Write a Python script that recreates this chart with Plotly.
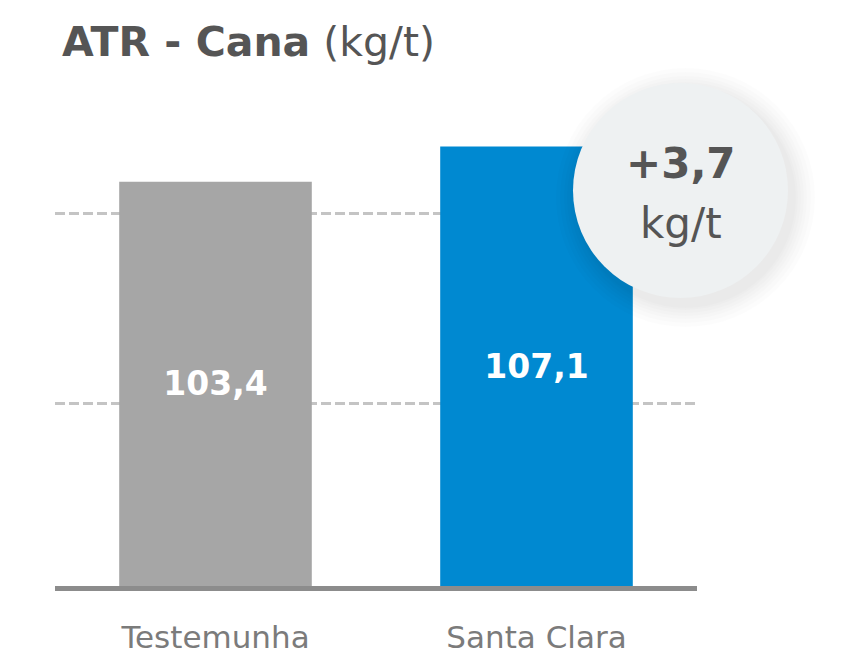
import plotly.graph_objects as go

categories = ["Testemunha", "Santa Clara"]
values = [103.4, 107.1]
bar_colors = ["#a6a6a6", "#0089d1"]
grid_values = [80, 100]
y_range = [60.8, 112.0]
unit = "kg/t"

W, H = 857, 664
OFF = 8  # page body margin offset
ML, MR, MT = 55 - OFF, 160 + OFF, 100 - OFF
MB = H - (586 - OFF)
PW, PH = W - ML - MR, H - MT - MB

def px_x(p):
    return (p - OFF - ML) / PW

def px_y(p):
    return (H - MB - (p - OFF)) / PH

def fmt(v, sign=False):
    s = f"{v:+.1f}" if sign else f"{v:.1f}"
    return s.replace(".", ",")

FONT = "DejaVu Sans"
base = y_range[0]

fig = go.Figure(go.Bar(
    x=categories, y=[v - base for v in values], base=base,
    marker=dict(color=bar_colors, line=dict(width=0)),
    text=[fmt(v) for v in values],
    textposition="inside", insidetextanchor="middle",
    textfont=dict(family=FONT, size=33, color="white", weight="bold"),
    width=0.6, hoverinfo="skip", cliponaxis=False,
))

# badge circle with soft shadow
cx0, cx1, cy0, cy1 = 573, 788, 83, 298
shapes = []
for grow in [22, 18, 14, 11, 8, 5, 3]:
    shapes.append(dict(type="circle", xref="paper", yref="paper",
                       x0=px_x(cx0 - grow + 5), x1=px_x(cx1 + grow + 5),
                       y0=px_y(cy1 + grow + 7), y1=px_y(cy0 - grow + 7),
                       fillcolor="rgba(0,0,0,0.012)", line=dict(width=0), layer="above"))
shapes.append(dict(type="circle", xref="paper", yref="paper",
                   x0=px_x(cx0), x1=px_x(cx1), y0=px_y(cy1), y1=px_y(cy0),
                   fillcolor="#eef1f2", line=dict(width=0), layer="above"))

diff = values[1] - values[0]
annotations = [
    dict(text="<b>ATR - Cana</b> (kg/t)", xref="paper", yref="paper",
         x=px_x(60), y=px_y(42), xanchor="left", yanchor="middle", showarrow=False,
         font=dict(family=FONT, size=41, color="#555555")),
    dict(text=fmt(diff, sign=True), xref="paper", yref="paper",
         x=px_x(681), y=px_y(164), xanchor="center", yanchor="middle", showarrow=False,
         font=dict(family=FONT, size=42, color="#555555", weight="bold")),
    dict(text=unit, xref="paper", yref="paper",
         x=px_x(681), y=px_y(224), xanchor="center", yanchor="middle", showarrow=False,
         font=dict(family=FONT, size=42, color="#555555")),
]

fig.update_layout(
    width=W, height=H,
    margin=dict(l=ML, r=MR, t=MT, b=MB),
    paper_bgcolor="white", plot_bgcolor="white",
    showlegend=False, bargap=0.4,
    shapes=shapes, annotations=annotations,
    xaxis=dict(showline=True, linecolor="#8c8c8c", linewidth=5, showgrid=False,
               ticks="", ticklabelstandoff=20,
               tickfont=dict(family=FONT, size=31, color="#7b7b7b"), zeroline=False),
    yaxis=dict(range=y_range, tickvals=grid_values, showticklabels=False,
               showgrid=True, gridcolor="#c4c4c4", gridwidth=2.5, griddash="10px,4px",
               zeroline=False, showline=False),
)

fig.write_html("out.html")
